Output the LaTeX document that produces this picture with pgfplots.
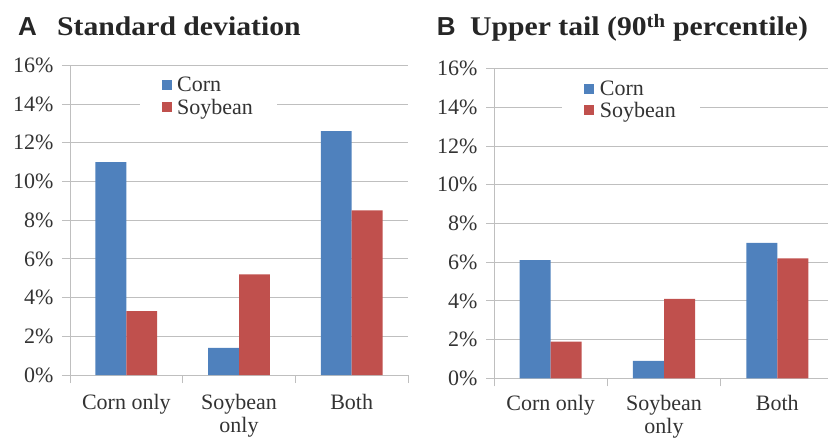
\documentclass[border=0pt]{standalone}
\usepackage{fontspec}
\setmainfont{Liberation Serif}
\setsansfont{Liberation Sans}
\usepackage{graphicx}
\usepackage{pgfplots}
\pgfplotsset{compat=1.18}
\definecolor{cornblue}{HTML}{4F81BD}
\definecolor{soyred}{HTML}{C0504D}
\definecolor{gridgray}{HTML}{BFBFBF}
\newcommand{\lblfont}{\fontsize{22bp}{23bp}\selectfont}
\pgfplotsset{
  panel/.style={
    scale only axis,
    height=309.7bp,
    ybar=0pt,
    xmin=-0.5, xmax=2.5, ymin=0, ymax=16,
    ytick={0,2,...,16},
    yticklabel={\pgfmathprintnumber{\tick}\%},
    /pgf/number format/assume math mode=true,
    xtick={-0.5,0.5,1.5,2.5},
    xticklabels={},
    extra x ticks={0,1,2},
    extra x tick labels={Corn only,{Soybean\\only},Both},
    axis x line*=bottom, axis y line*=left,
    axis line style={gridgray, -, line width=1bp},
    tick style={gridgray, line width=1bp},
    major tick length=8bp,
    tick align=outside,
    ymajorgrids,
    major grid style={gridgray, line width=1bp},
    tick label style={font=\lblfont, text=black!80},
    yticklabel style={xshift=-5bp},
    legend style={draw=none, fill=white, font=\lblfont, text=black!80,
      inner xsep=22bp, inner ysep=3bp, row sep=0.5bp,
      legend cell align=left,
      nodes={inner sep=2.5bp},
      /tikz/every odd column/.append style={column sep=3bp}},
    legend image code/.code={\fill[##1] (0bp,-5bp) rectangle (10bp,5bp);},
    clip=false,
  }
}
\begin{document}
\begin{tikzpicture}
\path[use as bounding box] (0,0) rectangle (828bp,439bp);
\clip (0,0) rectangle (828bp,439bp);
% titles
\node[anchor=base west, inner sep=0pt, text=black!85] at (18bp,403bp) {\fontsize{26bp}{30bp}\selectfont\sffamily\bfseries A};
\node[anchor=base west, inner sep=0pt, text=black!85] at (57bp,403bp) {\scalebox{1.1}[1]{\fontsize{27bp}{30bp}\selectfont\bfseries Standard deviation}};
\node[anchor=base west, inner sep=0pt, text=black!85] at (436.7bp,403bp) {\fontsize{26bp}{30bp}\selectfont\sffamily\bfseries B};
\node[anchor=base west, inner sep=0pt, text=black!85] at (470bp,403bp) {\scalebox{1.1}[1]{\fontsize{27bp}{30bp}\selectfont\bfseries Upper tail (90\textsuperscript{th} percentile)}};

\begin{axis}[panel, at={(70bp,64bp)}, anchor=south west, width=338bp,
  bar width=0.274,
  extra x tick style={major tick length=0pt, grid=none,
      tick label style={align=center, yshift=-15.5bp}},
  legend style={at={(rel axis cs:0.41,0.98)}, anchor=north}]
\addplot[fill=cornblue, draw=none] coordinates {(0,11.0) (1,1.4) (2,12.6)};
\addplot[fill=soyred, draw=none] coordinates {(0,3.3) (1,5.2) (2,8.5)};
\legend{Corn,Soybean}
\end{axis}

\begin{axis}[panel, at={(494bp,60.7bp)}, anchor=south west, width=340bp,
  bar width=0.2736,
  extra x tick style={major tick length=0pt, grid=none,
      tick label style={align=center, yshift=-13bp}},
  legend style={at={(rel axis cs:0.404,0.98)}, anchor=north}]
\addplot[fill=cornblue, draw=none] coordinates {(0,6.1) (1,0.9) (2,7.0)};
\addplot[fill=soyred, draw=none] coordinates {(0,1.9) (1,4.1) (2,6.2)};
\legend{Corn,Soybean}
\end{axis}
\end{tikzpicture}
\end{document}
